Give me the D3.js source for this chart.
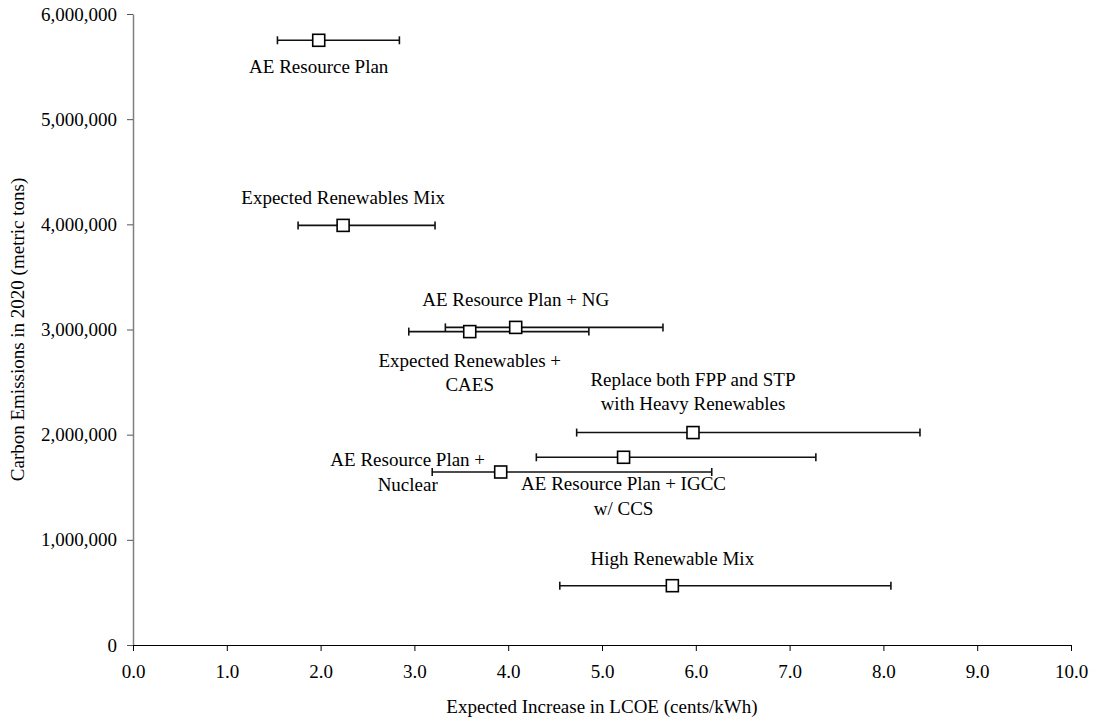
<!DOCTYPE html>
<html>
<head>
<meta charset="utf-8">
<script src="https://cdn.jsdelivr.net/npm/d3@7"></script>
<style>
  body { margin: 0; background: #fff; }
  svg, svg text { font-family: "Liberation Serif", "Times New Roman", Times, "DejaVu Serif", serif !important; fill: #000; }
</style>
</head>
<body>
<svg id="chart" width="1095" height="724"></svg>
<script>
// scenario data
const scenarios = [
  "AE Resource Plan",
  "Expected Renewables Mix",
  "AE Resource Plan + NG",
  "Expected Renewables + CAES",
  "Replace both FPP and STP with Heavy Renewables",
  "AE Resource Plan + IGCC w/ CCS",
  "AE Resource Plan + Nuclear",
  "High Renewable Mix"
];
const lcoe     = [1.98, 2.24, 4.08, 3.59, 5.97, 5.23, 3.92, 5.75];
const lcoeLow  = [1.54, 1.76, 3.33, 2.94, 4.73, 4.30, 3.19, 4.55];
const lcoeHigh = [2.84, 3.22, 5.65, 4.86, 8.39, 7.28, 6.17, 8.08];
const emissions = [5750000, 3990000, 3020000, 2980000, 2020000, 1785000, 1645000, 564000];

// how each label is broken into lines
const labelLines = [
  ["AE Resource Plan"],
  ["Expected Renewables Mix"],
  ["AE Resource Plan + NG"],
  ["Expected Renewables +", "CAES"],
  ["Replace both FPP and STP", "with Heavy Renewables"],
  ["AE Resource Plan + IGCC", "w/ CCS"],
  ["AE Resource Plan +", "Nuclear"],
  ["High Renewable Mix"]
];

const xTicks = [0, 1, 2, 3, 4, 5, 6, 7, 8, 9, 10];
const yTicks = [0, 1000000, 2000000, 3000000, 4000000, 5000000, 6000000];

// label placement relative to the marker (px): dx, first baseline dy
const labelPos = [[0, 33], [0, -21], [0, -21], [0, 35], [0, -47], [0, 33], [-93, -6], [0, -21]];
const lineHeight = 24.5;
const fontSize = 19;
const serif = '"Liberation Serif", "Times New Roman", Times, serif';

const svg = d3.select('#chart');
const x = d3.scaleLinear().domain([0, 10]).range([133, 1071]);
const y = d3.scaleLinear().domain([0, 6000000]).range([645, 14]);

const data = scenarios.map((name, i) => ({
  name: name, x: lcoe[i], lo: lcoeLow[i], hi: lcoeHigh[i], y: emissions[i],
  lines: labelLines[i], pos: labelPos[i]
}));

// y axis
const yAxis = svg.append('g')
    .attr('transform', 'translate(' + x(0) + ',0)')
    .call(d3.axisLeft(y).tickValues(yTicks).tickFormat(d3.format(',')).tickSize(6).tickPadding(10).tickSizeOuter(0));
yAxis.select('.domain').attr('stroke', '#808080').attr('stroke-width', 1.5);
yAxis.selectAll('.tick line').attr('stroke', '#555');

// x axis
const xAxis = svg.append('g')
    .attr('transform', 'translate(0,' + y(0) + ')')
    .call(d3.axisBottom(x).tickValues(xTicks).tickFormat(d3.format('.1f')).tickSize(6).tickPadding(14).tickSizeOuter(0));
xAxis.select('.domain').attr('stroke', '#000').attr('stroke-width', 1.2);
xAxis.selectAll('.tick line').attr('stroke', '#000');

svg.selectAll('g').attr('font-family', serif).attr('font-size', fontSize);

// axis titles
svg.append('text')
    .attr('x', (x(0) + x(10)) / 2)
    .attr('y', 713)
    .attr('text-anchor', 'middle')
    .text('Expected Increase in LCOE (cents/kWh)');

svg.append('text')
    .attr('transform', 'translate(24,' + (y(0) + y(6000000)) / 2 + ') rotate(-90)')
    .attr('text-anchor', 'middle')
    .text('Carbon Emissions in 2020 (metric tons)');

// error bars
const bars = svg.append('g').selectAll('g').data(data).join('g');
bars.append('line')
    .attr('x1', d => x(d.lo)).attr('x2', d => x(d.hi))
    .attr('y1', d => y(d.y)).attr('y2', d => y(d.y))
    .attr('stroke', '#111').attr('stroke-width', 1.6);
bars.append('line')
    .attr('x1', d => x(d.lo)).attr('x2', d => x(d.lo))
    .attr('y1', d => y(d.y) - 4).attr('y2', d => y(d.y) + 4)
    .attr('stroke', '#111').attr('stroke-width', 1.6);
bars.append('line')
    .attr('x1', d => x(d.hi)).attr('x2', d => x(d.hi))
    .attr('y1', d => y(d.y) - 4).attr('y2', d => y(d.y) + 4)
    .attr('stroke', '#111').attr('stroke-width', 1.6);

// square markers
svg.append('g').selectAll('rect').data(data).join('rect')
    .attr('x', d => x(d.x) - 6)
    .attr('y', d => y(d.y) - 6)
    .attr('width', 12).attr('height', 12)
    .attr('fill', '#fff').attr('stroke', '#000').attr('stroke-width', 1.6);

// labels
const labels = svg.append('g').selectAll('text').data(data).join('text')
    .attr('text-anchor', 'middle')
    .attr('x', d => x(d.x) + d.pos[0])
    .attr('y', d => y(d.y) + d.pos[1]);
labels.selectAll('tspan').data(d => d.lines.map(l => ({ l: l, cx: x(d.x) + d.pos[0] }))).join('tspan')
    .attr('x', t => t.cx)
    .attr('dy', (t, i) => i === 0 ? 0 : lineHeight)
    .text(t => t.l);

svg.selectAll('text').style('font-size', fontSize + 'px').style('font-family', serif);
</script>
</body>
</html>
